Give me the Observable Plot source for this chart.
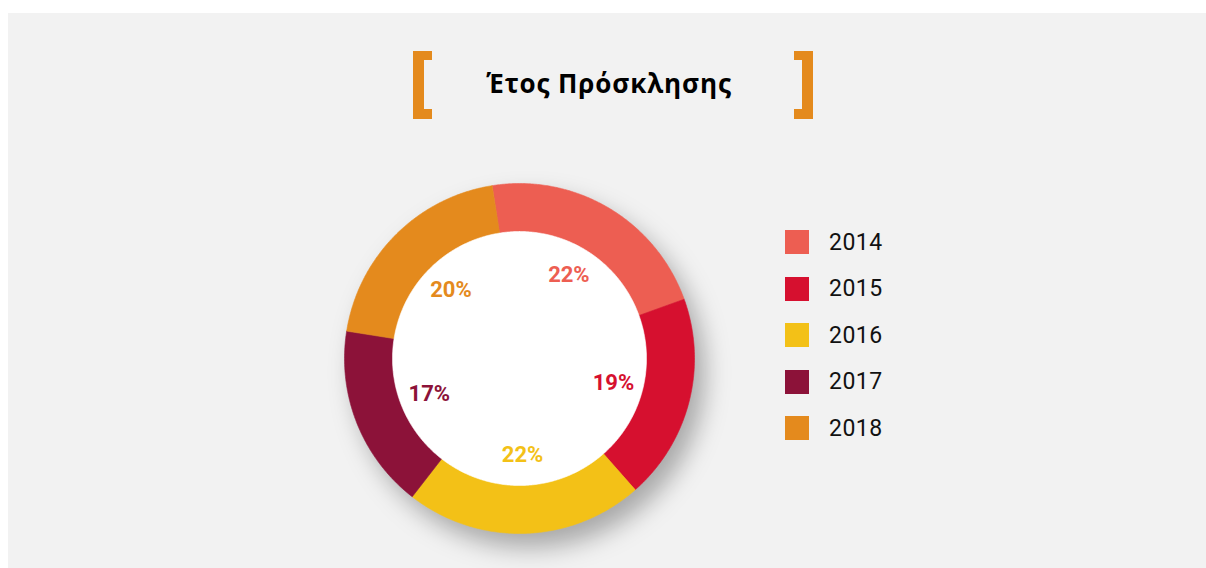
<!DOCTYPE html>
<html>
<head>
<meta charset="utf-8">
<script src="https://cdn.jsdelivr.net/npm/d3@7"></script>
<script src="https://cdn.jsdelivr.net/npm/@observablehq/plot@0.6"></script>
<style>
html, body { margin: 0; padding: 0; background: #ffffff; }
#panel { position: absolute; left: 8px; top: 13px; width: 1198px; height: 555px; background: #f2f2f2; overflow: hidden; }
.br { position: absolute; top: 38px; width: 19px; height: 68px; box-sizing: border-box; border-style: solid; border-color: #e48a1d; }
.br.l { left: 405px; border-width: 9px 0 10px 11px; }
.br.r { left: 786px; border-width: 9px 11px 10px 0; }
#title { position: absolute; left: 601px; top: 57px; transform: translateX(-50%); white-space: nowrap;
  font-family: "Open Sans", "Noto Sans", sans-serif; font-weight: 700; font-size: 26px; line-height: 26px; letter-spacing: 0.9px; color: #000; }
#chart { position: absolute; left: 0; top: 127px; }
#legend { position: absolute; left: 777px; top: 217px; }
#legend .lg-swatches { margin: 0 !important; font-family: Roboto, "DejaVu Sans", sans-serif !important; font-size: 23px !important; color: #111 !important; }
#legend .lg-swatch { height: 24px; margin: 0 0 22.5px 0 !important; padding: 0 !important; letter-spacing: 0.5px; }
#legend .lg-swatch > svg { margin-right: 20px !important; }
</style>
</head>
<body>
<div id="panel">
  <div class="br l"></div>
  <div class="br r"></div>
  <div id="title">Έτος Πρόσκλησης</div>
  <div id="chart"></div>
  <div id="legend"></div>
</div>
<script>
// ---- data ----
const years = ["2014", "2015", "2016", "2017", "2018"];
const shares = [22, 19, 22, 17, 20];
const colors = ["#ed5e52", "#d6102f", "#f3c117", "#8c1239", "#e48a1d"];

// ---- layout constants (pixels) ----
const W = 1198, H = 428;
const CX = 511, CY = 218;       // donut centre inside the svg
const R = 175, RIN = 127;       // outer / inner radius
const LABEL_R = 97;
const START = -9 * Math.PI / 180;

const k = R; // pixels per data unit
const xDomain = [-CX / k, (W - CX) / k];
const yDomain = [-(H - CY) / k, CY / k];

const arcs = d3.pie().sort(null).startAngle(START).endAngle(START + 2 * Math.PI)(shares);

// slice polygons (full sectors; the hole is drawn on top)
const slicePts = [];
arcs.forEach((a, i) => {
  slicePts.push({year: years[i], x: 0, y: 0});
  const n = Math.max(2, Math.ceil((a.endAngle - a.startAngle) / (Math.PI / 360)));
  for (let j = 0; j <= n; j++) {
    const t = a.startAngle + (a.endAngle - a.startAngle) * j / n;
    slicePts.push({year: years[i], x: Math.sin(t), y: Math.cos(t)});
  }
  slicePts.push({year: years[i], x: 0, y: 0});
});

const holePts = d3.range(0, 721).map(j => {
  const t = j / 720 * 2 * Math.PI;
  return {x: (RIN / R) * Math.sin(t), y: (RIN / R) * Math.cos(t)};
});

const labels = arcs.map((a, i) => {
  const m = (a.startAngle + a.endAngle) / 2;
  return {year: years[i], text: `${shares[i]}%`, x: (LABEL_R / R) * Math.sin(m), y: (LABEL_R / R) * Math.cos(m)};
});

const colorOpts = {domain: years, range: colors};

const chart = Plot.plot({
  width: W,
  height: H,
  margin: 0,
  style: {background: "transparent", overflow: "visible"},
  x: {domain: xDomain, axis: null},
  y: {domain: yDomain, axis: null},
  color: colorOpts,
  marks: [
    Plot.line(slicePts, {x: "x", y: "y", z: "year", fill: "year", stroke: "year", strokeWidth: 0.6, curve: "linear"}),
    Plot.line(holePts, {x: "x", y: "y", fill: "#ffffff", stroke: "#ffffff", strokeWidth: 0.6}),
    Plot.text(labels, {x: "x", y: "y", text: "text", fill: "year",
      fontSize: 22, fontWeight: 700, fontFamily: "Roboto, 'DejaVu Sans', sans-serif"})
  ]
});
document.getElementById("chart").appendChild(chart);

// drop shadow under the ring
const lineGroups = chart.querySelectorAll('g[aria-label="line"]');
if (lineGroups.length) lineGroups[0].style.filter = "drop-shadow(10px 14px 12px rgba(0,0,0,0.3))";

const legend = Plot.legend({
  color: colorOpts,
  legend: "swatches",
  columns: 1,
  swatchSize: 24,
  className: "lg"
});
document.getElementById("legend").appendChild(legend);
</script>
</body>
</html>
